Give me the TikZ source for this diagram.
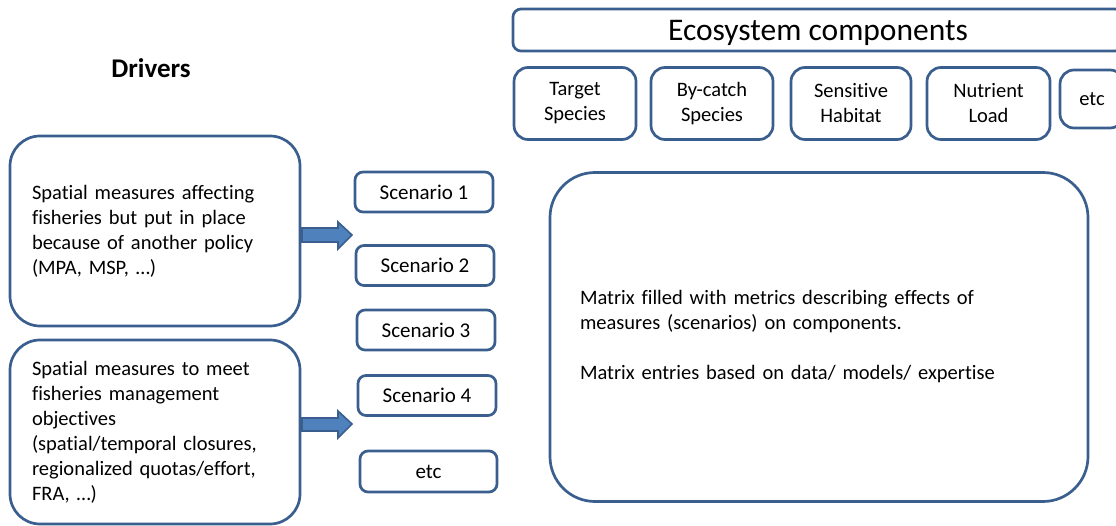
\documentclass[tikz,border=0pt]{standalone}
\usepackage{fontspec}
\setmainfont[RawFeature=-liga]{Carlito}
\definecolor{edge}{HTML}{3A5F8E}
\definecolor{afill}{HTML}{4F81BD}
\begin{document}
\begin{tikzpicture}[x=1pt,y=-1pt,
  box/.style={draw=edge, line width=2.7pt, fill=white, rectangle, inner sep=0pt, font=\fontsize{20.5}{25}\selectfont},
  bigbox/.style={box, rounded corners=30pt, align=left},
  scen/.style={box, rounded corners=8pt, minimum width=138pt, minimum height=40pt, align=center, font=\fontsize{21}{25}\selectfont},
  comp/.style={box, rounded corners=14pt, align=center},
  blockarrow/.style={draw=edge, line width=1.6pt, fill=afill}]
\useasboundingbox (0,0) rectangle (1116,526);
\clip (0,0) rectangle (1116,526);

\node[font=\fontsize{27}{30}\selectfont\bfseries] (drivers) at (151,68) {Drivers};

\node[bigbox, minimum width=290pt, minimum height=190pt, text width=246pt] (d1) at (155,231)
  {Spatial measures affecting\\fisheries but put in place\\because of another policy\\(MPA, MSP, \dots)};
\node[bigbox, minimum width=290pt, minimum height=184pt, text width=246pt] (d2) at (155,432)
  {Spatial measures to meet\\fisheries management\\objectives\\(spatial/temporal closures,\\regionalized quotas/effort,\\FRA, \dots)};

\draw[blockarrow] (302,228) -- (338,228) -- (338,222) -- (352,235) -- (338,249) -- (338,242) -- (302,242) -- cycle;
\draw[blockarrow] (302,418) -- (338,418) -- (338,411) -- (352,424) -- (338,438) -- (338,431) -- (302,431) -- cycle;

\node[scen] (s1) at (424,192) {Scenario 1};
\node[scen] (s2) at (425,265.5) {Scenario 2};
\node[scen] (s3) at (426,330) {Scenario 3};
\node[scen] (s4) at (427,395.5) {Scenario 4};
\node[scen, minimum width=137pt, minimum height=41pt] (s5) at (428.5,471.5) {etc};

\node[box, rounded corners=8pt, minimum width=610pt, minimum height=42pt, font=\fontsize{31.5}{34}\selectfont] (eco) at (818,30) {\raisebox{-10.5pt}[0pt][0pt]{Ecosystem components}};

\node[comp, minimum width=122pt, minimum height=72pt] (c1) at (575,103.5) {Target\\Species};
\node[comp, minimum width=122pt, minimum height=72pt] (c2) at (712,103.5) {By-catch\\Species};
\node[comp, minimum width=120pt, minimum height=72pt] (c3) at (851,103.5) {Sensitive\\Habitat};
\node[comp, minimum width=123pt, minimum height=72pt] (c4) at (988.5,103.5) {Nutrient\\Load};
\node[comp, minimum width=64pt, minimum height=58pt] (c5) at (1092,99) {etc};

\node[box, rounded corners=45pt, minimum width=538pt, minimum height=329pt, text width=478pt, align=left] (mat) at (819,337)
  {Matrix filled with metrics describing effects of\\measures (scenarios) on components.\\[25pt]Matrix entries based on data/ models/ expertise};
\end{tikzpicture}
\end{document}
